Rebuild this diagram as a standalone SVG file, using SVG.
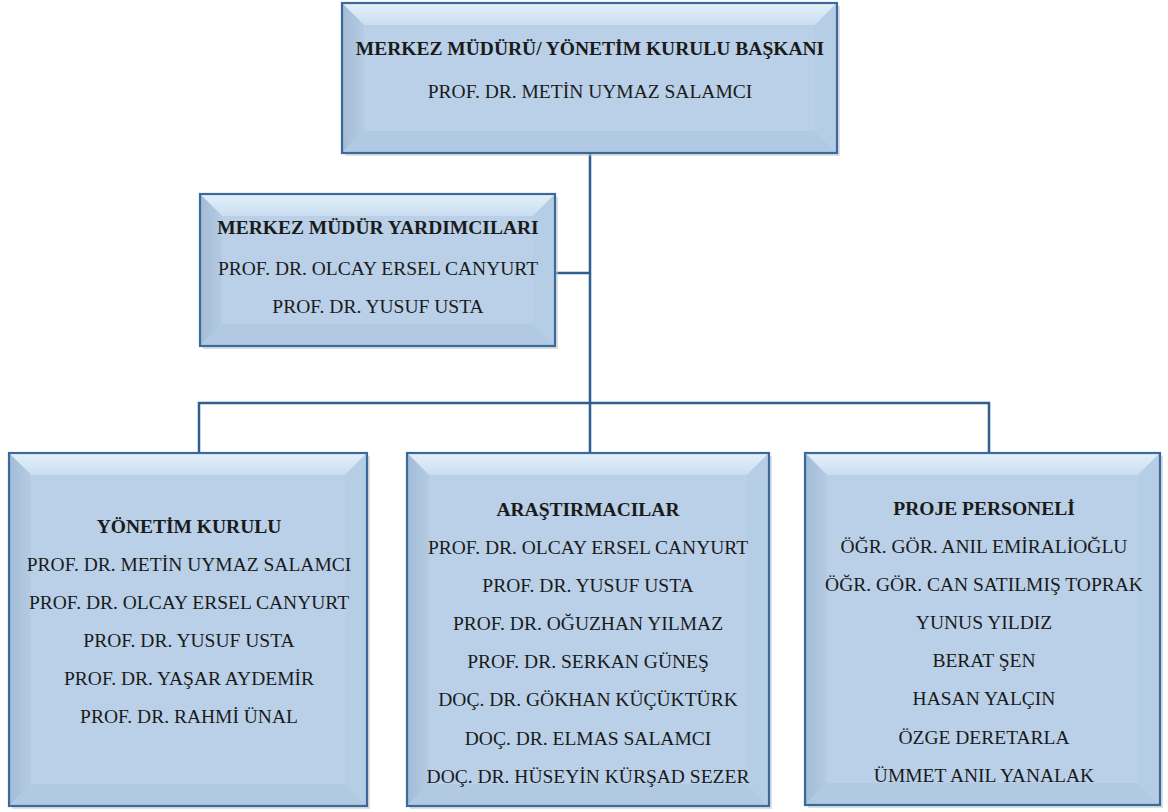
<svg xmlns="http://www.w3.org/2000/svg" width="1168" height="812" viewBox="0 0 1168 812">
<defs>
<style>
.face{fill:#b9d0e8}
.bt{fill:url(#gt)}
.bl{fill:url(#gl)}
.br{fill:#b6cde6}
.bb{fill:#b1c9e2}
.edge{fill:none;stroke:#3a6a9d;stroke-width:2.2}
.sh{fill:#c4c4c4;opacity:0.55}
.conn{fill:none;stroke:#2f5f91;stroke-width:2.5}
.tx{font-family:'Liberation Serif','Times New Roman',Times,serif;font-size:19.5px;fill:#1a1a1a;text-anchor:middle}
.t{font-weight:bold}
</style>
<linearGradient id="gt" x1="0" y1="0" x2="0" y2="1">
<stop offset="0" stop-color="#e4f0fa"/><stop offset="1" stop-color="#cadef1"/>
</linearGradient>
<linearGradient id="gl" x1="0" y1="0" x2="1" y2="0">
<stop offset="0" stop-color="#a3bbd4"/><stop offset="1" stop-color="#b4cbe3"/>
</linearGradient>
</defs>
<rect width="1168" height="812" fill="#ffffff"/>
<g id="connectors">
<path class="conn" d="M590,153 V453"/>
<path class="conn" d="M555,273 H590"/>
<path class="conn" d="M199,453 V403 H989 V453"/>
</g>
<g id="node-mudur">
<rect class="sh" x="345" y="6" width="495" height="150"/>
<rect class="face" x="342" y="3" width="495" height="150"/>
<polygon class="bt" points="342,3 837,3 815,25 364,25"/>
<polygon class="bl" points="342,3 364,25 364,131 342,153"/>
<polygon class="br" points="837,3 837,153 815,131 815,25"/>
<polygon class="bb" points="342,153 364,131 815,131 837,153"/>
<rect class="face" x="364" y="25" width="451" height="106"/>
<rect class="edge" x="342" y="3" width="495" height="150"/>
<g class="tx" font-family="Liberation Serif, serif">
<text class="t" x="590" y="55">MERKEZ MÜDÜRÜ/ YÖNETİM KURULU BAŞKANI</text>
<text x="590" y="98">PROF. DR. METİN UYMAZ SALAMCI</text>
</g>
</g>
<g id="node-yardimcilar">
<rect class="sh" x="203" y="197" width="355" height="152"/>
<rect class="face" x="200" y="194" width="355" height="152"/>
<polygon class="bt" points="200,194 555,194 533,216 222,216"/>
<polygon class="bl" points="200,194 222,216 222,324 200,346"/>
<polygon class="br" points="555,194 555,346 533,324 533,216"/>
<polygon class="bb" points="200,346 222,324 533,324 555,346"/>
<rect class="face" x="222" y="216" width="311" height="108"/>
<rect class="edge" x="200" y="194" width="355" height="152"/>
<g class="tx" font-family="Liberation Serif, serif">
<text class="t" x="378" y="234">MERKEZ MÜDÜR YARDIMCILARI</text>
<text x="378" y="275">PROF. DR. OLCAY ERSEL CANYURT</text>
<text x="378" y="313">PROF. DR. YUSUF USTA</text>
</g>
</g>
<g id="node-yonetim">
<rect class="sh" x="12" y="456" width="358" height="353"/>
<rect class="face" x="9" y="453" width="358" height="353"/>
<polygon class="bt" points="9,453 367,453 345,475 31,475"/>
<polygon class="bl" points="9,453 31,475 31,784 9,806"/>
<polygon class="br" points="367,453 367,806 345,784 345,475"/>
<polygon class="bb" points="9,806 31,784 345,784 367,806"/>
<rect class="face" x="31" y="475" width="314" height="309"/>
<rect class="edge" x="9" y="453" width="358" height="353"/>
<g class="tx" font-family="Liberation Serif, serif">
<text class="t" x="189" y="533">YÖNETİM KURULU</text>
<text x="189" y="571">PROF. DR. METİN UYMAZ SALAMCI</text>
<text x="189" y="609">PROF. DR. OLCAY ERSEL CANYURT</text>
<text x="189" y="647">PROF. DR. YUSUF USTA</text>
<text x="189" y="685">PROF. DR. YAŞAR AYDEMİR</text>
<text x="189" y="723">PROF. DR. RAHMİ ÜNAL</text>
</g>
</g>
<g id="node-arastirmacilar">
<rect class="sh" x="410" y="456" width="362" height="353"/>
<rect class="face" x="407" y="453" width="362" height="353"/>
<polygon class="bt" points="407,453 769,453 747,475 429,475"/>
<polygon class="bl" points="407,453 429,475 429,784 407,806"/>
<polygon class="br" points="769,453 769,806 747,784 747,475"/>
<polygon class="bb" points="407,806 429,784 747,784 769,806"/>
<rect class="face" x="429" y="475" width="318" height="309"/>
<rect class="edge" x="407" y="453" width="362" height="353"/>
<g class="tx" font-family="Liberation Serif, serif">
<text class="t" x="588" y="516">ARAŞTIRMACILAR</text>
<text x="588" y="554">PROF. DR. OLCAY ERSEL CANYURT</text>
<text x="588" y="592">PROF. DR. YUSUF USTA</text>
<text x="588" y="630">PROF. DR. OĞUZHAN YILMAZ</text>
<text x="588" y="668">PROF. DR. SERKAN GÜNEŞ</text>
<text x="588" y="706">DOÇ. DR. GÖKHAN KÜÇÜKTÜRK</text>
<text x="588" y="745">DOÇ. DR. ELMAS SALAMCI</text>
<text x="588" y="783">DOÇ. DR. HÜSEYİN KÜRŞAD SEZER</text>
</g>
</g>
<g id="node-proje">
<rect class="sh" x="808" y="456" width="355" height="352"/>
<rect class="face" x="805" y="453" width="355" height="352"/>
<polygon class="bt" points="805,453 1160,453 1138,475 827,475"/>
<polygon class="bl" points="805,453 827,475 827,783 805,805"/>
<polygon class="br" points="1160,453 1160,805 1138,783 1138,475"/>
<polygon class="bb" points="805,805 827,783 1138,783 1160,805"/>
<rect class="face" x="827" y="475" width="311" height="308"/>
<rect class="edge" x="805" y="453" width="355" height="352"/>
<g class="tx" font-family="Liberation Serif, serif">
<text class="t" x="984" y="515">PROJE PERSONELİ</text>
<text x="984" y="553">ÖĞR. GÖR. ANIL EMİRALİOĞLU</text>
<text x="984" y="591">ÖĞR. GÖR. CAN SATILMIŞ TOPRAK</text>
<text x="984" y="629">YUNUS  YILDIZ</text>
<text x="984" y="667">BERAT ŞEN</text>
<text x="984" y="705">HASAN YALÇIN</text>
<text x="984" y="744">ÖZGE DERETARLA</text>
<text x="984" y="782">ÜMMET ANIL YANALAK</text>
</g>
</g>
</svg>
